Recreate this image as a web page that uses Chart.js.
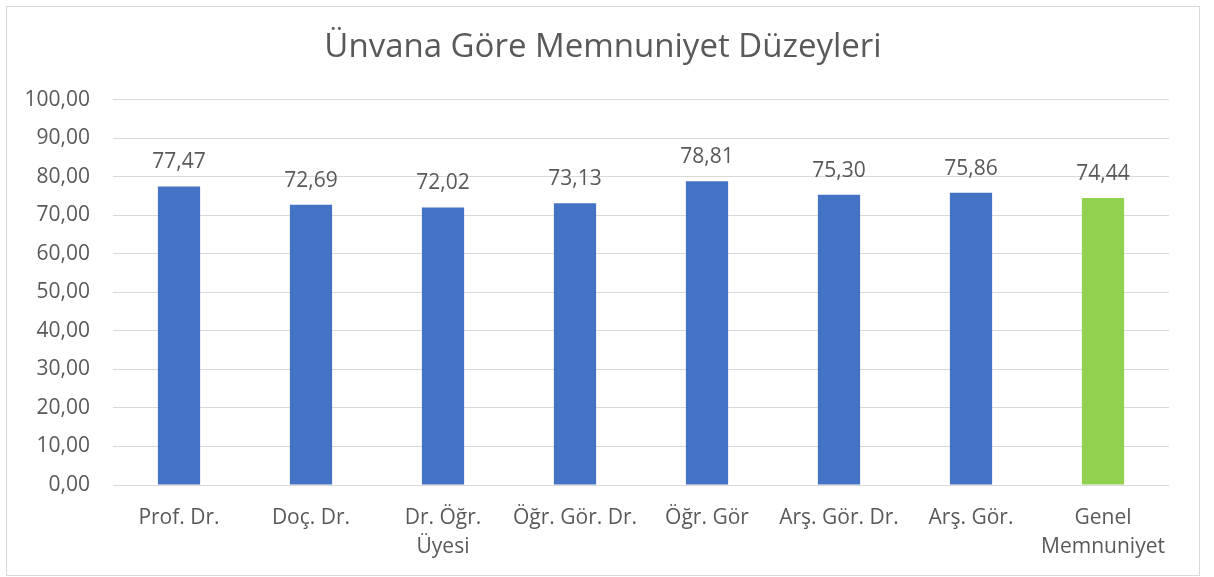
<!DOCTYPE html>
<html>
<head>
<meta charset="utf-8">
<script src="https://cdn.jsdelivr.net/npm/chart.js@4"></script>
<style>
  html, body { margin: 0; padding: 0; background: #fff; }
  #box { position: absolute; left: 6px; top: 6px; width: 1192px; height: 568px; border: 1px solid #d9d9d9; }
  canvas { display: block; }
</style>
</head>
<body>
<div id="box"><canvas id="c" width="1192" height="568"></canvas></div>
<script>
// ---- data ----
const categories = ['Prof. Dr.', 'Doç. Dr.', ['Dr. Öğr.', 'Üyesi'], 'Öğr. Gör. Dr.', 'Öğr. Gör', 'Arş. Gör. Dr.', 'Arş. Gör.', ['Genel', 'Memnuniyet']];
const values     = [77.47, 72.69, 72.02, 73.13, 78.81, 75.30, 75.86, 74.44];
const barColors  = ['#4472C4', '#4472C4', '#4472C4', '#4472C4', '#4472C4', '#4472C4', '#4472C4', '#92D050'];
const yTicks     = [0, 10, 20, 30, 40, 50, 60, 70, 80, 90, 100];

const TXT = '#595959';
const FONT = '"Open Sans", Lato, sans-serif';
const fmt = v => v.toFixed(2).replace('.', ',');

// etiketler sütunların üstüne
const valueLabels = {
  id: 'valueLabels',
  afterDatasetsDraw(chart) {
    const ctx = chart.ctx;
    const meta = chart.getDatasetMeta(0);
    ctx.save();
    ctx.fillStyle = TXT;
    ctx.font = '21px ' + FONT;
    ctx.textAlign = 'center';
    ctx.textBaseline = 'alphabetic';
    meta.data.forEach((bar, i) => {
      ctx.fillText(fmt(values[i]), bar.x, bar.y - 18);
    });
    ctx.restore();
  }
};

new Chart(document.getElementById('c'), {
  type: 'bar',
  data: {
    labels: categories,
    datasets: [{ data: values, backgroundColor: barColors, barPercentage: 0.32, categoryPercentage: 1 }]
  },
  options: {
    responsive: false,
    animation: false,
    layout: { padding: 0 },
    plugins: {
      legend: { display: false },
      tooltip: { enabled: false },
      title: {
        display: true,
        text: 'Ünvana Göre Memnuniyet Düzeyleri',
        color: TXT,
        font: { family: FONT, size: 33, weight: 'normal', lineHeight: 1.2 },
        padding: { top: 21, bottom: 32 }
      }
    },
    scales: {
      x: {
        grid: { display: false, drawTicks: false },
        border: { display: false },
        ticks: { color: TXT, font: { family: FONT, size: 21, lineHeight: 1.4 }, padding: 18, maxRotation: 0, autoSkip: false },
        afterFit: s => { s.height = 90; }
      },
      y: {
        min: 0, max: 100,
        afterBuildTicks: s => { s.ticks = yTicks.map(v => ({ value: v })); },
        grid: { color: '#d9d9d9', lineWidth: 1, drawTicks: false },
        border: { display: false },
        ticks: { color: TXT, font: { family: FONT, size: 21 }, padding: 23, callback: v => fmt(v) },
        afterFit: s => { s.width = 106; }
      },
      // boş sağ eksen: sadece sağ boşluk için
      yRight: {
        position: 'right',
        grid: { display: false, drawTicks: false },
        border: { display: false },
        ticks: { display: false },
        afterFit: s => { s.width = 30; }
      }
    }
  },
  plugins: [valueLabels]
});
</script>
</body>
</html>
